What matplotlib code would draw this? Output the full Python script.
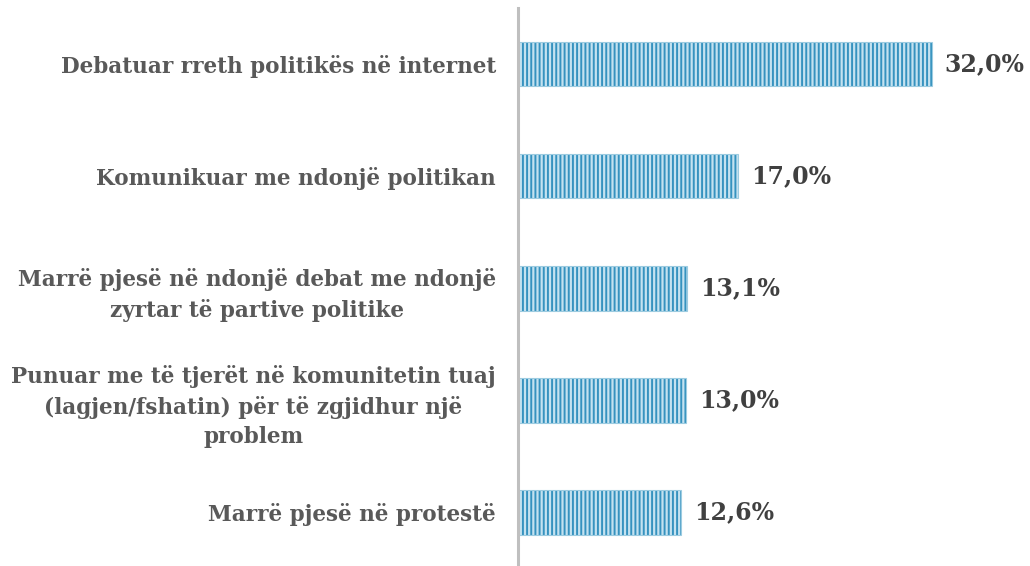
import numpy as np
import matplotlib
matplotlib.use("Agg")
import matplotlib.pyplot as plt

categories = [
    "Debatuar rreth politikës në internet",
    "Komunikuar me ndonjë politikan",
    "Marrë pjesë në ndonjë debat me ndonjë\nzyrtar të partive politike",
    "Punuar me të tjerët në komunitetin tuaj\n(lagjen/fshatin) për të zgjidhur një\nproblem",
    "Marrë pjesë në protestë",
]
values = [32.0, 17.0, 13.1, 13.0, 12.6]

plt.rcParams["font.family"] = ["DejaVu Serif"]
plt.rcParams["hatch.linewidth"] = 1.4
plt.rcParams["hatch.color"] = "#3592bf"

fig = plt.figure(figsize=(10.3, 5.66), dpi=100)
ax = fig.add_axes([0.503, -0.004, 0.497, 0.99])

y = np.arange(len(categories))
ax.barh(y, values, height=0.4, color="#c4e2f0", edgecolor="#3592bf",
        hatch="||||", linewidth=0)
ax.barh(y, values, height=0.4, color="none", edgecolor="#9ccbe0", linewidth=0.8)

for yi, v in zip(y, values):
    ax.text(v + 1.0, yi, f"{v:.1f}%".replace(".", ","), va="center", ha="left",
            fontsize=17, fontweight="bold", color="#404040")

ax.set_yticks(y)
ax.set_yticklabels(categories, fontsize=15.5, fontweight="bold", color="#595959",
                   multialignment="center", linespacing=1.45)
ax.tick_params(axis="y", length=0, pad=16)
ax.set_xticks([])
ax.set_xlim(0, 39.6)
ax.set_ylim(len(categories) - 0.5, -0.5)

for s in ["top", "right", "bottom"]:
    ax.spines[s].set_visible(False)
ax.spines["left"].set_color("#bfbfbf")
ax.spines["left"].set_linewidth(2.2)

fig.savefig("out.png", dpi=100)
